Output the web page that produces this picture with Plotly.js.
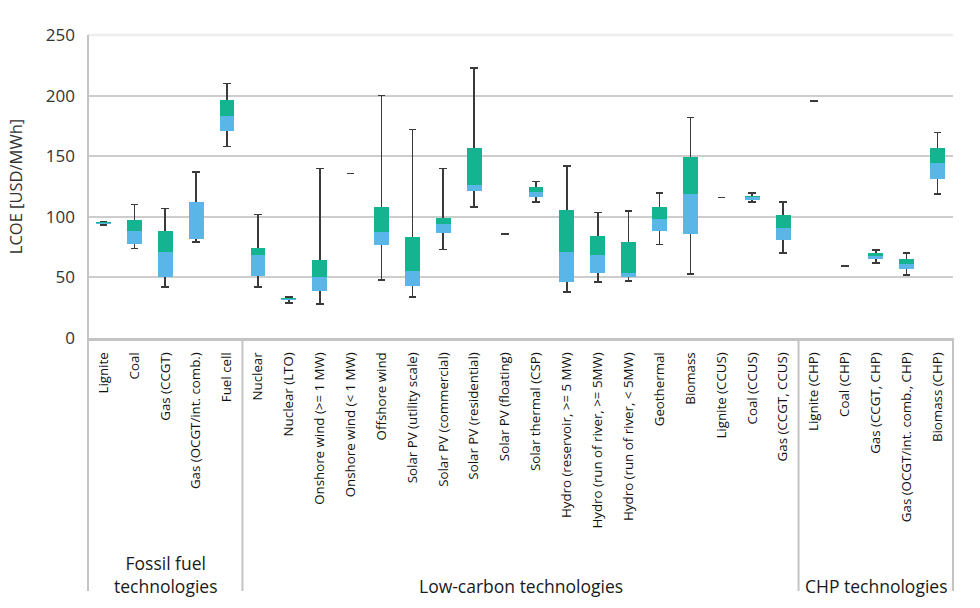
<!DOCTYPE html>
<html>
<head>
<meta charset="utf-8">
<script src="https://cdn.plot.ly/plotly-3.0.1.min.js"></script>
<style>
  html, body { margin: 0; padding: 0; background: #ffffff; }
  #chart { width: 980px; height: 608px; }
</style>
</head>
<body>
<div id="chart"></div>
<script>
// ---- Data (LCOE, USD/MWh) ----
const categories = [
  "Lignite", "Coal", "Gas (CCGT)", "Gas (OCGT/int. comb.)", "Fuel cell",
  "Nuclear", "Nuclear (LTO)", "Onshore wind (>= 1 MW)", "Onshore wind (< 1 MW)", "Offshore wind",
  "Solar PV (utility scale)", "Solar PV (commercial)", "Solar PV (residential)", "Solar PV (floating)",
  "Solar thermal (CSP)", "Hydro (reservoir, >= 5 MW)", "Hydro (run of river, >= 5MW)",
  "Hydro (run of river, < 5MW)", "Geothermal", "Biomass", "Lignite (CCUS)", "Coal (CCUS)",
  "Gas (CCGT, CCUS)",
  "Lignite (CHP)", "Coal (CHP)", "Gas (CCGT, CHP)", "Gas (OCGT/int. comb., CHP)", "Biomass (CHP)"
];
const minVals = [93, 74, 42, 79, 158, 42, 29, 28, 135.6, 48, 34, 73, 108, 86, 112, 38, 46, 47, 77, 53, 115.8, 112, 70, 195.5, 59.4, 62, 52, 119];
const q1Vals  = [94, 77.5, 50, 81.5, 171, 51, 31, 39, 135.6, 77, 42.5, 86.5, 121, 86, 116.5, 46.5, 54, 50.5, 88, 85.5, 115.8, 114, 81, 195.5, 59.4, 65, 57, 131];
const medVals = [95, 88.5, 71, 112.5, 183.5, 68.5, 32, 50, 135.6, 87.5, 55, 94, 126, 86, 120.5, 71, 68.5, 54, 98, 118.5, 115.8, 116, 91, 195.5, 59.4, 67.7, 61, 144];
const q3Vals  = [95.5, 97.5, 88.5, 112.5, 196.5, 74.5, 33, 64.5, 135.6, 108.5, 83.5, 99, 157, 86, 125, 105.5, 84, 79, 108.5, 149.5, 115.8, 117.5, 101.5, 195.5, 59.4, 70, 65, 156.5];
const maxVals = [96, 110, 107, 137, 210, 102, 34, 140, 135.6, 200, 172, 140, 223, 86, 129, 142, 103.5, 105, 119.5, 182, 115.8, 119.5, 112, 195.5, 59.4, 72.5, 70, 169.5];
const groupNames = ["Fossil fuel<br>technologies", "Low-carbon technologies", "CHP technologies"];
const groupSizes = [5, 18, 5];
const yTicks = [0, 50, 100, 150, 200, 250];

// ---- Styling ----
const GREEN = "#13b48f";
const BLUE = "#5bb6e8";
const WHISKER = "#3a3a3a";
const AXIS_GREY = "#c4c4c4";
const FONT = "Open Sans, Noto Sans, sans-serif";

const idx = categories.map((_, i) => i);

// Whiskers: invisible bar from min to midpoint, symmetric error bar spans min..max with caps
const whiskers = {
  type: "bar",
  x: idx,
  base: minVals,
  y: maxVals.map((m, i) => (m - minVals[i]) / 2),
  width: 0.05,
  marker: { color: "rgba(0,0,0,0)", line: { width: 0 } },
  error_y: {
    type: "data",
    symmetric: true,
    array: maxVals.map((m, i) => (m - minVals[i]) / 2),
    color: WHISKER,
    thickness: 1.6,
    width: 3.8
  },
  hoverinfo: "skip",
  showlegend: false
};

// Lower box (q1 -> median), blue
const lowerBox = {
  type: "bar",
  x: idx,
  base: q1Vals,
  y: medVals.map((m, i) => m - q1Vals[i]),
  width: 0.48,
  marker: { color: BLUE, line: { width: 0 } },
  showlegend: false
};

// Upper box (median -> q3), green
const upperBox = {
  type: "bar",
  x: idx,
  base: medVals,
  y: q3Vals.map((q, i) => q - medVals[i]),
  width: 0.48,
  marker: { color: GREEN, line: { width: 0 } },
  showlegend: false
};

// Group separators and labels below the axis
const n = categories.length;
const shapes = [];
const annotations = [];
const belowDepth = 0.835; // paper units below the plot
// soften the top (250) gridline
shapes.push({ type: "line", xref: "paper", yref: "paper", x0: 0, x1: 1, y0: 1, y1: 1, line: { color: "#eeeeee", width: 2.5 }, layer: "above" });
// left and right frame lines below/through plot
shapes.push({ type: "line", xref: "paper", yref: "paper", x0: 0, x1: 0, y0: -belowDepth, y1: 1, line: { color: AXIS_GREY, width: 2 } });
shapes.push({ type: "line", xref: "paper", yref: "paper", x0: 1, x1: 1, y0: -belowDepth, y1: 0, line: { color: AXIS_GREY, width: 2 } });
let start = 0;
groupSizes.forEach((sz, g) => {
  const end = start + sz;
  if (end < n) {
    shapes.push({ type: "line", xref: "x", yref: "paper", x0: end - 0.5, x1: end - 0.5, y0: -belowDepth, y1: 0, line: { color: AXIS_GREY, width: 2 } });
  }
  annotations.push({
    xref: "x", yref: "paper",
    x: (start + end - 1) / 2,
    y: -belowDepth,
    yanchor: "bottom",
    yshift: -9,
    text: groupNames[g],
    showarrow: false,
    font: { family: FONT, size: 17.5, color: "#1a1a1a" },
    align: "center"
  });
  start = end;
});

const layout = {
  width: 980,
  height: 608,
  margin: { l: 88, r: 27, t: 35, b: 270 },
  paper_bgcolor: "#ffffff",
  plot_bgcolor: "#ffffff",
  barmode: "overlay",
  bargap: 0,
  showlegend: false,
  font: { family: FONT, color: "#333" },
  xaxis: {
    type: "linear",
    range: [-0.5, n - 0.5],
    tickmode: "array",
    tickvals: idx,
    ticktext: categories,
    tickangle: -90,
    tickfont: { family: FONT, size: 13.3, color: "#111" },
    ticks: "",
    showgrid: false,
    zeroline: false,
    showline: true,
    linecolor: AXIS_GREY,
    linewidth: 3,
    ticklabelstandoff: 6,
    fixedrange: true
  },
  yaxis: {
    range: [0, 250],
    tickmode: "array",
    tickvals: yTicks,
    ticktext: yTicks.map(String),
    tickfont: { family: FONT, size: 17, color: "#333" },
    ticks: "",
    ticklabelstandoff: 12,
    showgrid: true,
    gridcolor: "#cdcdcd",
    gridwidth: 2,
    zeroline: false,
    showline: false,
    title: { text: "LCOE [USD/MWh]", font: { family: FONT, size: 16.5, color: "#333" }, standoff: 19 },
    fixedrange: true
  },
  shapes: shapes,
  annotations: annotations
};

Plotly.newPlot("chart", [whiskers, lowerBox, upperBox], layout, { displayModeBar: false, staticPlot: true });
</script>
</body>
</html>
